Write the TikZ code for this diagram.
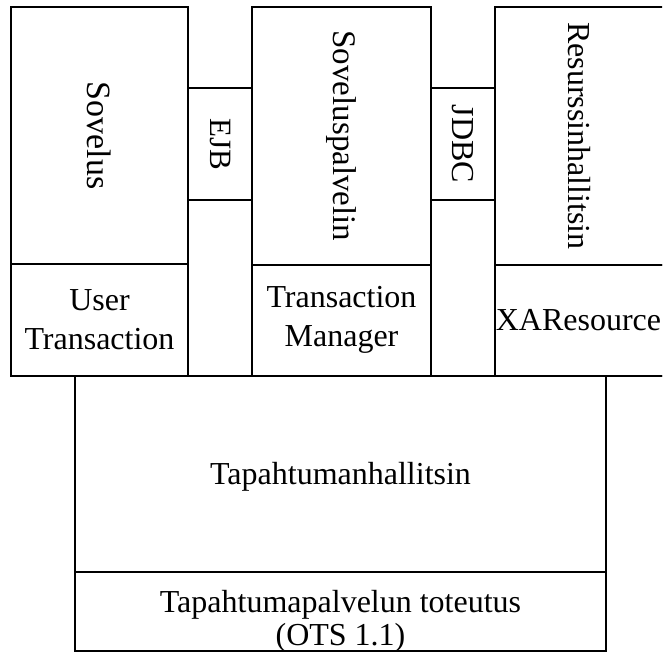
\documentclass[tikz,border=0pt]{standalone}
\usepackage{fontspec}
\setmainfont{Liberation Serif}
\usetikzlibrary{fit}
\begin{document}
\begin{tikzpicture}[x=1pt,y=-1pt,
  frame/.style={draw, line width=1.6pt, rectangle, inner sep=0pt, outer sep=0pt},
  lbl/.style={font=\fontsize{32}{39}\selectfont, align=center, inner sep=0pt},
  vlbl/.style={lbl, rotate=-90}]
\useasboundingbox (0,0) rectangle (662,664);
\clip (0,0) rectangle (662,664);

% application column
\node[frame, fit={(11,7) (188,264)}] (sov) {};
\node[frame, fit={(11,264) (188,376)}] (ut) {};
% EJB interface
\node[frame, fit={(188,88) (252,200)}] (ejb) {};
% application server column
\node[frame, fit={(252,7) (431,265)}] (sp) {};
\node[frame, fit={(252,265) (431,376)}] (tm) {};
% JDBC interface
\node[frame, fit={(431,88) (495,200)}] (jdbc) {};
% resource manager column
\node[frame, fit={(495,7) (668,265)}] (rh) {};
\node[frame, fit={(495,265) (668,376)}] (xa) {};
% transaction manager and service layer
\node[frame, fit={(75,376) (606,572)}] (tph) {};
\node[frame, fit={(75,572) (606,651)}] (ots) {};
% baseline under the upper row
\draw[line width=1.6pt] (ut.south west) -- (xa.south east);

% labels
\node[vlbl, font=\fontsize{34}{39}\selectfont] (sovT) at (sov.center) {Sovelus};
\node[vlbl, font=\fontsize{31}{39}\selectfont] (ejbT) at (ejb.center) {EJB};
\node[vlbl, font=\fontsize{33}{39}\selectfont] (spT) at (sp.center) {Soveluspalvelin};
\node[vlbl] (jdbcT) at (jdbc.center) {JDBC};
\node[vlbl] (rhT) at ([xshift=-2pt]rh.center) {Resurssinhallitsin};
\node[lbl] (utT) at (ut.center) {User\\Transaction};
\node[lbl] (tmT) at ([yshift=1pt]tm.center) {Transaction\\Manager};
\node[lbl] (xaT) at ([xshift=-3pt]xa.center) {XAResource};
\node[lbl] (tphT) at ([yshift=-3pt]tph.center) {Tapahtumanhallitsin};
\node[lbl, font=\fontsize{32}{33}\selectfont] (otsT) at ([yshift=-10pt]ots.center) {Tapahtumapalvelun toteutus\\(OTS 1.1)};
\end{tikzpicture}
\end{document}
